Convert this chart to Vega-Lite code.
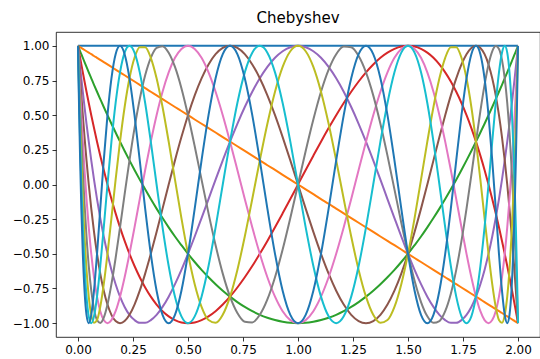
{
"$schema": "https://vega.github.io/schema/vega-lite/v6.json",
"width": 484, "height": 305,
"autosize": {"type": "none"},
"padding": {"left": 56, "top": 32, "right": 0, "bottom": 22},
"background": "white",
"title": {"text": "Chebyshev", "font": "DejaVu Sans", "fontSize": 15, "fontWeight": "normal", "color": "#000", "offset": 6},
"data": {"values": [
{"x":0,"t0":1,"t1":1,"t2":1,"t3":1,"t4":1,"t5":1,"t6":1,"t7":1,"t8":1,"t9":1,"t10":1},
{"x":0.0006,"t0":1,"t1":0.999,"t2":0.998,"t3":0.995,"t4":0.990,"t5":0.985,"t6":0.978,"t7":0.970,"t8":0.961,"t9":0.951,"t10":0.940},
{"x":0.0024,"t0":1,"t1":0.998,"t2":0.990,"t3":0.978,"t4":0.961,"t5":0.940,"t6":0.914,"t7":0.883,"t8":0.848,"t9":0.809,"t10":0.766},
{"x":0.0055,"t0":1,"t1":0.995,"t2":0.978,"t3":0.951,"t4":0.914,"t5":0.866,"t6":0.809,"t7":0.743,"t8":0.669,"t9":0.588,"t10":0.5},
{"x":0.0097,"t0":1,"t1":0.990,"t2":0.961,"t3":0.914,"t4":0.848,"t5":0.766,"t6":0.669,"t7":0.559,"t8":0.438,"t9":0.309,"t10":0.174},
{"x":0.0152,"t0":1,"t1":0.985,"t2":0.940,"t3":0.866,"t4":0.766,"t5":0.643,"t6":0.5,"t7":0.342,"t8":0.174,"t9":0,"t10":-0.174},
{"x":0.0219,"t0":1,"t1":0.978,"t2":0.914,"t3":0.809,"t4":0.669,"t5":0.5,"t6":0.309,"t7":0.105,"t8":-0.105,"t9":-0.309,"t10":-0.5},
{"x":0.0297,"t0":1,"t1":0.970,"t2":0.883,"t3":0.743,"t4":0.559,"t5":0.342,"t6":0.105,"t7":-0.139,"t8":-0.375,"t9":-0.588,"t10":-0.766},
{"x":0.0387,"t0":1,"t1":0.961,"t2":0.848,"t3":0.669,"t4":0.438,"t5":0.174,"t6":-0.105,"t7":-0.375,"t8":-0.616,"t9":-0.809,"t10":-0.940},
{"x":0.0489,"t0":1,"t1":0.951,"t2":0.809,"t3":0.588,"t4":0.309,"t5":0,"t6":-0.309,"t7":-0.588,"t8":-0.809,"t9":-0.951,"t10":-1},
{"x":0.0603,"t0":1,"t1":0.940,"t2":0.766,"t3":0.5,"t4":0.174,"t5":-0.174,"t6":-0.5,"t7":-0.766,"t8":-0.940,"t9":-1,"t10":-0.940},
{"x":0.0728,"t0":1,"t1":0.927,"t2":0.719,"t3":0.407,"t4":0.035,"t5":-0.342,"t6":-0.669,"t7":-0.899,"t8":-0.998,"t9":-0.951,"t10":-0.766},
{"x":0.0865,"t0":1,"t1":0.914,"t2":0.669,"t3":0.309,"t4":-0.105,"t5":-0.5,"t6":-0.809,"t7":-0.978,"t8":-0.978,"t9":-0.809,"t10":-0.5},
{"x":0.1012,"t0":1,"t1":0.899,"t2":0.616,"t3":0.208,"t4":-0.242,"t5":-0.643,"t6":-0.914,"t7":-0.999,"t8":-0.883,"t9":-0.588,"t10":-0.174},
{"x":0.1171,"t0":1,"t1":0.883,"t2":0.559,"t3":0.105,"t4":-0.375,"t5":-0.766,"t6":-0.978,"t7":-0.961,"t8":-0.719,"t9":-0.309,"t10":0.174},
{"x":0.1340,"t0":1,"t1":0.866,"t2":0.5,"t3":0,"t4":-0.5,"t5":-0.866,"t6":-1,"t7":-0.866,"t8":-0.5,"t9":0,"t10":0.5},
{"x":0.1520,"t0":1,"t1":0.848,"t2":0.438,"t3":-0.105,"t4":-0.616,"t5":-0.940,"t6":-0.978,"t7":-0.719,"t8":-0.242,"t9":0.309,"t10":0.766},
{"x":0.1710,"t0":1,"t1":0.829,"t2":0.375,"t3":-0.208,"t4":-0.719,"t5":-0.985,"t6":-0.914,"t7":-0.530,"t8":0.035,"t9":0.588,"t10":0.940},
{"x":0.1910,"t0":1,"t1":0.809,"t2":0.309,"t3":-0.309,"t4":-0.809,"t5":-1,"t6":-0.809,"t7":-0.309,"t8":0.309,"t9":0.809,"t10":1},
{"x":0.2120,"t0":1,"t1":0.788,"t2":0.242,"t3":-0.407,"t4":-0.883,"t5":-0.985,"t6":-0.669,"t7":-0.070,"t8":0.559,"t9":0.951,"t10":0.940},
{"x":0.2340,"t0":1,"t1":0.766,"t2":0.174,"t3":-0.5,"t4":-0.940,"t5":-0.940,"t6":-0.5,"t7":0.174,"t8":0.766,"t9":1,"t10":0.766},
{"x":0.2569,"t0":1,"t1":0.743,"t2":0.105,"t3":-0.588,"t4":-0.978,"t5":-0.866,"t6":-0.309,"t7":0.407,"t8":0.914,"t9":0.951,"t10":0.5},
{"x":0.2807,"t0":1,"t1":0.719,"t2":0.035,"t3":-0.669,"t4":-0.998,"t5":-0.766,"t6":-0.105,"t7":0.616,"t8":0.990,"t9":0.809,"t10":0.174},
{"x":0.3053,"t0":1,"t1":0.695,"t2":-0.035,"t3":-0.743,"t4":-0.998,"t5":-0.643,"t6":0.105,"t7":0.788,"t8":0.990,"t9":0.588,"t10":-0.174},
{"x":0.3309,"t0":1,"t1":0.669,"t2":-0.105,"t3":-0.809,"t4":-0.978,"t5":-0.5,"t6":0.309,"t7":0.914,"t8":0.914,"t9":0.309,"t10":-0.5},
{"x":0.3572,"t0":1,"t1":0.643,"t2":-0.174,"t3":-0.866,"t4":-0.940,"t5":-0.342,"t6":0.5,"t7":0.985,"t8":0.766,"t9":0,"t10":-0.766},
{"x":0.3843,"t0":1,"t1":0.616,"t2":-0.242,"t3":-0.914,"t4":-0.883,"t5":-0.174,"t6":0.669,"t7":0.998,"t8":0.559,"t9":-0.309,"t10":-0.940},
{"x":0.4122,"t0":1,"t1":0.588,"t2":-0.309,"t3":-0.951,"t4":-0.809,"t5":0,"t6":0.809,"t7":0.951,"t8":0.309,"t9":-0.588,"t10":-1},
{"x":0.4408,"t0":1,"t1":0.559,"t2":-0.375,"t3":-0.978,"t4":-0.719,"t5":0.174,"t6":0.914,"t7":0.848,"t8":0.035,"t9":-0.809,"t10":-0.940},
{"x":0.4701,"t0":1,"t1":0.530,"t2":-0.438,"t3":-0.995,"t4":-0.616,"t5":0.342,"t6":0.978,"t7":0.695,"t8":-0.242,"t9":-0.951,"t10":-0.766},
{"x":0.5,"t0":1,"t1":0.5,"t2":-0.5,"t3":-1,"t4":-0.5,"t5":0.5,"t6":1,"t7":0.5,"t8":-0.5,"t9":-1,"t10":-0.5},
{"x":0.5305,"t0":1,"t1":0.469,"t2":-0.559,"t3":-0.995,"t4":-0.375,"t5":0.643,"t6":0.978,"t7":0.276,"t8":-0.719,"t9":-0.951,"t10":-0.174},
{"x":0.5616,"t0":1,"t1":0.438,"t2":-0.616,"t3":-0.978,"t4":-0.242,"t5":0.766,"t6":0.914,"t7":0.035,"t8":-0.883,"t9":-0.809,"t10":0.174},
{"x":0.5933,"t0":1,"t1":0.407,"t2":-0.669,"t3":-0.951,"t4":-0.105,"t5":0.866,"t6":0.809,"t7":-0.208,"t8":-0.978,"t9":-0.588,"t10":0.5},
{"x":0.6254,"t0":1,"t1":0.375,"t2":-0.719,"t3":-0.914,"t4":0.035,"t5":0.940,"t6":0.669,"t7":-0.438,"t8":-0.998,"t9":-0.309,"t10":0.766},
{"x":0.6580,"t0":1,"t1":0.342,"t2":-0.766,"t3":-0.866,"t4":0.174,"t5":0.985,"t6":0.5,"t7":-0.643,"t8":-0.940,"t9":0,"t10":0.940},
{"x":0.6910,"t0":1,"t1":0.309,"t2":-0.809,"t3":-0.809,"t4":0.309,"t5":1,"t6":0.309,"t7":-0.809,"t8":-0.809,"t9":0.309,"t10":1},
{"x":0.7244,"t0":1,"t1":0.276,"t2":-0.848,"t3":-0.743,"t4":0.438,"t5":0.985,"t6":0.105,"t7":-0.927,"t8":-0.616,"t9":0.588,"t10":0.940},
{"x":0.7581,"t0":1,"t1":0.242,"t2":-0.883,"t3":-0.669,"t4":0.559,"t5":0.940,"t6":-0.105,"t7":-0.990,"t8":-0.375,"t9":0.809,"t10":0.766},
{"x":0.7921,"t0":1,"t1":0.208,"t2":-0.914,"t3":-0.588,"t4":0.669,"t5":0.866,"t6":-0.309,"t7":-0.995,"t8":-0.105,"t9":0.951,"t10":0.5},
{"x":0.8264,"t0":1,"t1":0.174,"t2":-0.940,"t3":-0.5,"t4":0.766,"t5":0.766,"t6":-0.5,"t7":-0.940,"t8":0.174,"t9":1,"t10":0.174},
{"x":0.8608,"t0":1,"t1":0.139,"t2":-0.961,"t3":-0.407,"t4":0.848,"t5":0.643,"t6":-0.669,"t7":-0.829,"t8":0.438,"t9":0.951,"t10":-0.174},
{"x":0.8955,"t0":1,"t1":0.105,"t2":-0.978,"t3":-0.309,"t4":0.914,"t5":0.5,"t6":-0.809,"t7":-0.669,"t8":0.669,"t9":0.809,"t10":-0.5},
{"x":0.9302,"t0":1,"t1":0.070,"t2":-0.990,"t3":-0.208,"t4":0.961,"t5":0.342,"t6":-0.914,"t7":-0.469,"t8":0.848,"t9":0.588,"t10":-0.766},
{"x":0.9651,"t0":1,"t1":0.035,"t2":-0.998,"t3":-0.105,"t4":0.990,"t5":0.174,"t6":-0.978,"t7":-0.242,"t8":0.961,"t9":0.309,"t10":-0.940},
{"x":1,"t0":1,"t1":0,"t2":-1,"t3":0,"t4":1,"t5":0,"t6":-1,"t7":0,"t8":1,"t9":0,"t10":-1},
{"x":1.0349,"t0":1,"t1":-0.035,"t2":-0.998,"t3":0.105,"t4":0.990,"t5":-0.174,"t6":-0.978,"t7":0.242,"t8":0.961,"t9":-0.309,"t10":-0.940},
{"x":1.0698,"t0":1,"t1":-0.070,"t2":-0.990,"t3":0.208,"t4":0.961,"t5":-0.342,"t6":-0.914,"t7":0.469,"t8":0.848,"t9":-0.588,"t10":-0.766},
{"x":1.1045,"t0":1,"t1":-0.105,"t2":-0.978,"t3":0.309,"t4":0.914,"t5":-0.5,"t6":-0.809,"t7":0.669,"t8":0.669,"t9":-0.809,"t10":-0.5},
{"x":1.1392,"t0":1,"t1":-0.139,"t2":-0.961,"t3":0.407,"t4":0.848,"t5":-0.643,"t6":-0.669,"t7":0.829,"t8":0.438,"t9":-0.951,"t10":-0.174},
{"x":1.1736,"t0":1,"t1":-0.174,"t2":-0.940,"t3":0.5,"t4":0.766,"t5":-0.766,"t6":-0.5,"t7":0.940,"t8":0.174,"t9":-1,"t10":0.174},
{"x":1.2079,"t0":1,"t1":-0.208,"t2":-0.914,"t3":0.588,"t4":0.669,"t5":-0.866,"t6":-0.309,"t7":0.995,"t8":-0.105,"t9":-0.951,"t10":0.5},
{"x":1.2419,"t0":1,"t1":-0.242,"t2":-0.883,"t3":0.669,"t4":0.559,"t5":-0.940,"t6":-0.105,"t7":0.990,"t8":-0.375,"t9":-0.809,"t10":0.766},
{"x":1.2756,"t0":1,"t1":-0.276,"t2":-0.848,"t3":0.743,"t4":0.438,"t5":-0.985,"t6":0.105,"t7":0.927,"t8":-0.616,"t9":-0.588,"t10":0.940},
{"x":1.3090,"t0":1,"t1":-0.309,"t2":-0.809,"t3":0.809,"t4":0.309,"t5":-1,"t6":0.309,"t7":0.809,"t8":-0.809,"t9":-0.309,"t10":1},
{"x":1.3420,"t0":1,"t1":-0.342,"t2":-0.766,"t3":0.866,"t4":0.174,"t5":-0.985,"t6":0.5,"t7":0.643,"t8":-0.940,"t9":0,"t10":0.940},
{"x":1.3746,"t0":1,"t1":-0.375,"t2":-0.719,"t3":0.914,"t4":0.035,"t5":-0.940,"t6":0.669,"t7":0.438,"t8":-0.998,"t9":0.309,"t10":0.766},
{"x":1.4067,"t0":1,"t1":-0.407,"t2":-0.669,"t3":0.951,"t4":-0.105,"t5":-0.866,"t6":0.809,"t7":0.208,"t8":-0.978,"t9":0.588,"t10":0.5},
{"x":1.4384,"t0":1,"t1":-0.438,"t2":-0.616,"t3":0.978,"t4":-0.242,"t5":-0.766,"t6":0.914,"t7":-0.035,"t8":-0.883,"t9":0.809,"t10":0.174},
{"x":1.4695,"t0":1,"t1":-0.469,"t2":-0.559,"t3":0.995,"t4":-0.375,"t5":-0.643,"t6":0.978,"t7":-0.276,"t8":-0.719,"t9":0.951,"t10":-0.174},
{"x":1.5,"t0":1,"t1":-0.5,"t2":-0.5,"t3":1,"t4":-0.5,"t5":-0.5,"t6":1,"t7":-0.5,"t8":-0.5,"t9":1,"t10":-0.5},
{"x":1.5299,"t0":1,"t1":-0.530,"t2":-0.438,"t3":0.995,"t4":-0.616,"t5":-0.342,"t6":0.978,"t7":-0.695,"t8":-0.242,"t9":0.951,"t10":-0.766},
{"x":1.5592,"t0":1,"t1":-0.559,"t2":-0.375,"t3":0.978,"t4":-0.719,"t5":-0.174,"t6":0.914,"t7":-0.848,"t8":0.035,"t9":0.809,"t10":-0.940},
{"x":1.5878,"t0":1,"t1":-0.588,"t2":-0.309,"t3":0.951,"t4":-0.809,"t5":0,"t6":0.809,"t7":-0.951,"t8":0.309,"t9":0.588,"t10":-1},
{"x":1.6157,"t0":1,"t1":-0.616,"t2":-0.242,"t3":0.914,"t4":-0.883,"t5":0.174,"t6":0.669,"t7":-0.998,"t8":0.559,"t9":0.309,"t10":-0.940},
{"x":1.6428,"t0":1,"t1":-0.643,"t2":-0.174,"t3":0.866,"t4":-0.940,"t5":0.342,"t6":0.5,"t7":-0.985,"t8":0.766,"t9":0,"t10":-0.766},
{"x":1.6691,"t0":1,"t1":-0.669,"t2":-0.105,"t3":0.809,"t4":-0.978,"t5":0.5,"t6":0.309,"t7":-0.914,"t8":0.914,"t9":-0.309,"t10":-0.5},
{"x":1.6947,"t0":1,"t1":-0.695,"t2":-0.035,"t3":0.743,"t4":-0.998,"t5":0.643,"t6":0.105,"t7":-0.788,"t8":0.990,"t9":-0.588,"t10":-0.174},
{"x":1.7193,"t0":1,"t1":-0.719,"t2":0.035,"t3":0.669,"t4":-0.998,"t5":0.766,"t6":-0.105,"t7":-0.616,"t8":0.990,"t9":-0.809,"t10":0.174},
{"x":1.7431,"t0":1,"t1":-0.743,"t2":0.105,"t3":0.588,"t4":-0.978,"t5":0.866,"t6":-0.309,"t7":-0.407,"t8":0.914,"t9":-0.951,"t10":0.5},
{"x":1.7660,"t0":1,"t1":-0.766,"t2":0.174,"t3":0.5,"t4":-0.940,"t5":0.940,"t6":-0.5,"t7":-0.174,"t8":0.766,"t9":-1,"t10":0.766},
{"x":1.7880,"t0":1,"t1":-0.788,"t2":0.242,"t3":0.407,"t4":-0.883,"t5":0.985,"t6":-0.669,"t7":0.070,"t8":0.559,"t9":-0.951,"t10":0.940},
{"x":1.8090,"t0":1,"t1":-0.809,"t2":0.309,"t3":0.309,"t4":-0.809,"t5":1,"t6":-0.809,"t7":0.309,"t8":0.309,"t9":-0.809,"t10":1},
{"x":1.8290,"t0":1,"t1":-0.829,"t2":0.375,"t3":0.208,"t4":-0.719,"t5":0.985,"t6":-0.914,"t7":0.530,"t8":0.035,"t9":-0.588,"t10":0.940},
{"x":1.8480,"t0":1,"t1":-0.848,"t2":0.438,"t3":0.105,"t4":-0.616,"t5":0.940,"t6":-0.978,"t7":0.719,"t8":-0.242,"t9":-0.309,"t10":0.766},
{"x":1.8660,"t0":1,"t1":-0.866,"t2":0.5,"t3":0,"t4":-0.5,"t5":0.866,"t6":-1,"t7":0.866,"t8":-0.5,"t9":0,"t10":0.5},
{"x":1.8829,"t0":1,"t1":-0.883,"t2":0.559,"t3":-0.105,"t4":-0.375,"t5":0.766,"t6":-0.978,"t7":0.961,"t8":-0.719,"t9":0.309,"t10":0.174},
{"x":1.8988,"t0":1,"t1":-0.899,"t2":0.616,"t3":-0.208,"t4":-0.242,"t5":0.643,"t6":-0.914,"t7":0.999,"t8":-0.883,"t9":0.588,"t10":-0.174},
{"x":1.9135,"t0":1,"t1":-0.914,"t2":0.669,"t3":-0.309,"t4":-0.105,"t5":0.5,"t6":-0.809,"t7":0.978,"t8":-0.978,"t9":0.809,"t10":-0.5},
{"x":1.9272,"t0":1,"t1":-0.927,"t2":0.719,"t3":-0.407,"t4":0.035,"t5":0.342,"t6":-0.669,"t7":0.899,"t8":-0.998,"t9":0.951,"t10":-0.766},
{"x":1.9397,"t0":1,"t1":-0.940,"t2":0.766,"t3":-0.5,"t4":0.174,"t5":0.174,"t6":-0.5,"t7":0.766,"t8":-0.940,"t9":1,"t10":-0.940},
{"x":1.9511,"t0":1,"t1":-0.951,"t2":0.809,"t3":-0.588,"t4":0.309,"t5":0,"t6":-0.309,"t7":0.588,"t8":-0.809,"t9":0.951,"t10":-1},
{"x":1.9613,"t0":1,"t1":-0.961,"t2":0.848,"t3":-0.669,"t4":0.438,"t5":-0.174,"t6":-0.105,"t7":0.375,"t8":-0.616,"t9":0.809,"t10":-0.940},
{"x":1.9703,"t0":1,"t1":-0.970,"t2":0.883,"t3":-0.743,"t4":0.559,"t5":-0.342,"t6":0.105,"t7":0.139,"t8":-0.375,"t9":0.588,"t10":-0.766},
{"x":1.9781,"t0":1,"t1":-0.978,"t2":0.914,"t3":-0.809,"t4":0.669,"t5":-0.5,"t6":0.309,"t7":-0.105,"t8":-0.105,"t9":0.309,"t10":-0.5},
{"x":1.9848,"t0":1,"t1":-0.985,"t2":0.940,"t3":-0.866,"t4":0.766,"t5":-0.643,"t6":0.5,"t7":-0.342,"t8":0.174,"t9":0,"t10":-0.174},
{"x":1.9903,"t0":1,"t1":-0.990,"t2":0.961,"t3":-0.914,"t4":0.848,"t5":-0.766,"t6":0.669,"t7":-0.559,"t8":0.438,"t9":-0.309,"t10":0.174},
{"x":1.9945,"t0":1,"t1":-0.995,"t2":0.978,"t3":-0.951,"t4":0.914,"t5":-0.866,"t6":0.809,"t7":-0.743,"t8":0.669,"t9":-0.588,"t10":0.5},
{"x":1.9976,"t0":1,"t1":-0.998,"t2":0.990,"t3":-0.978,"t4":0.961,"t5":-0.940,"t6":0.914,"t7":-0.883,"t8":0.848,"t9":-0.809,"t10":0.766},
{"x":1.9994,"t0":1,"t1":-0.999,"t2":0.998,"t3":-0.995,"t4":0.990,"t5":-0.985,"t6":0.978,"t7":-0.970,"t8":0.961,"t9":-0.951,"t10":0.940},
{"x":2,"t0":1,"t1":-1,"t2":1,"t3":-1,"t4":1,"t5":-1,"t6":1,"t7":-1,"t8":1,"t9":-1,"t10":1}
]},
"transform": [{"fold": ["t0","t1","t2","t3","t4","t5","t6","t7","t8","t9","t10"], "as": ["n","y"]}],
"mark": {"type": "line", "strokeWidth": 2, "interpolate": "monotone", "clip": true},
"encoding": {
  "x": {"field": "x", "type": "quantitative", "title": null,
        "scale": {"domain": [-0.1, 2.1], "nice": false, "zero": false},
        "axis": {"values": [0,0.25,0.5,0.75,1,1.25,1.5,1.75,2], "format": ".2f"}},
  "y": {"field": "y", "type": "quantitative", "title": null,
        "scale": {"domain": [-1.1, 1.1], "nice": false, "zero": false},
        "axis": {"values": [-1,-0.75,-0.5,-0.25,0,0.25,0.5,0.75,1], "format": ".2f"}},
  "color": {"field": "n", "type": "nominal", "legend": null,
        "scale": {"domain": ["t0","t1","t2","t3","t4","t5","t6","t7","t8","t9","t10"],
                  "range": ["#1f77b4","#ff7f0e","#2ca02c","#d62728","#9467bd","#8c564b","#e377c2","#7f7f7f","#bcbd22","#17becf","#1f77b4"]}}
},
"config": {
  "view": {"stroke": "#000", "strokeWidth": 0.8},
  "axis": {"grid": false, "domain": false, "ticks": true, "tickColor": "#000", "tickSize": 4, "tickWidth": 0.8,
           "labelColor": "#000", "labelFont": "DejaVu Sans", "labelFontSize": 12, "labelPadding": 3}
}
}
